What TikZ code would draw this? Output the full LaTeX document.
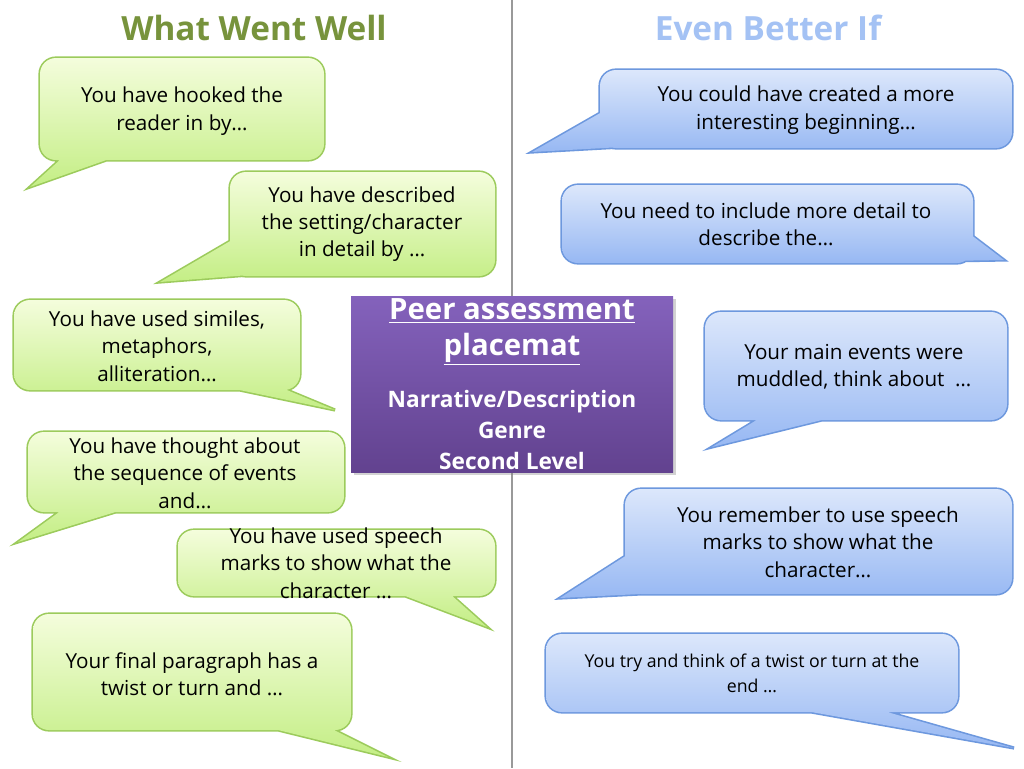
\documentclass[tikz,border=0pt]{standalone}
\usepackage{fontspec}
\setmainfont{Open Sans}
\usetikzlibrary{shadows}
\definecolor{gtop}{HTML}{F4FDDC}\definecolor{gbot}{HTML}{C4EE85}\definecolor{gline}{HTML}{9CCB5C}
\definecolor{btop}{HTML}{DCE7FB}\definecolor{bbot}{HTML}{97B8F3}\definecolor{bline}{HTML}{6D98DE}
\definecolor{ptop}{HTML}{8462BC}\definecolor{pbot}{HTML}{62428F}
\tikzset{txt/.style={align=center,font=\fontsize{15.5}{20.5}\selectfont,text=black}}
\newcommand\mycallout[6]{%
  \draw[#1line,line width=2.4pt,rounded corners=12pt] #2 rectangle #3 [sharp corners] #4 -- #6 -- #5 -- cycle;
  \shade[top color=#1top,bottom color=#1bot,rounded corners=12pt] #2 rectangle #3 [sharp corners] #4 -- #6 -- #5 -- cycle;}
\begin{document}
\begin{tikzpicture}[x=0.75pt,y=-0.75pt]
\useasboundingbox (0,0) rectangle (1024,768);
\fill[white] (0,0) rectangle (1024,768);
\draw[gray!80,line width=1pt] (512,0) -- (512,768);
\node[font=\bfseries\fontsize{25}{30}\selectfont,text={rgb,255:red,119;green,147;blue,60}] (h1) at (254,28) {What Went Well};
\node[font=\bfseries\fontsize{25}{30}\selectfont,text={rgb,255:red,164;green,194;blue,244}] (h2) at (768,28) {Even Better If};
% green
\mycallout{g}{(40,58)}{(324,160)}{(62,158)}{(112,158)}{(30,187)}
\node[txt] (g1) at (182,111) {You have hooked the\\reader in by…};
\mycallout{g}{(230,172)}{(495,276)}{(232,240)}{(262,274)}{(160,282)}
\node[txt] (g2) at (362,224) {You have described\\the setting/character\\in detail by …};
\mycallout{g}{(14,300)}{(300,390)}{(230,388)}{(282,388)}{(335,410)}
\node[txt] (g3) at (157,346) {You have used similes,\\metaphors,\\alliteration…};
\mycallout{g}{(28,432)}{(344,512)}{(62,510)}{(122,510)}{(18,542)}
\node[txt] (g4) at (185,473) {You have thought about\\the sequence of events\\and…};
\mycallout{g}{(178,530)}{(495,596)}{(400,594)}{(450,594)}{(487,627)}
\node[txt] (g5) at (336,563) {You have used speech\\marks to show what the\\character …};
\mycallout{g}{(33,614)}{(351,730)}{(270,728)}{(330,728)}{(388,757)}
\node[txt] (g6) at (192,674) {Your final paragraph has a\\twist or turn and …};
% blue
\mycallout{b}{(600,70)}{(1012,148)}{(602,112)}{(640,146)}{(532,152)}
\node[txt] (b1) at (806,110) {You could have created a more\\interesting beginning…};
\mycallout{b}{(562,185)}{(973,263)}{(942,261)}{(962,228)}{(1004,260)}
\node[txt] (b2) at (766,224) {You need to include more detail to\\describe the…};
\mycallout{b}{(705,312)}{(1007,420)}{(760,418)}{(830,418)}{(712,447)}
\node[txt] (b3) at (854,367) {Your main events were\\muddled, think about\ \ …};
\mycallout{b}{(625,489)}{(1012,594)}{(627,555)}{(680,592)}{(560,598)}
\node[txt] (b4) at (818,542) {You remember to use speech\\marks to show what the\\character…};
\mycallout{b}{(546,634)}{(958,712)}{(800,710)}{(880,710)}{(1014,748)}
\node[txt,font=\fontsize{13.3}{19}\selectfont] (b5) at (752,673) {You try and think of a twist or turn at the\\end …};
% centre
\shade[top color=ptop,bottom color=pbot,drop shadow={opacity=0.35,shadow xshift=2pt,shadow yshift=-2pt}] (351,296) rectangle (673,472);
\node[align=center,text=white,font=\bfseries\fontsize{22}{27}\selectfont] (t) at (512,332) {\underline{Peer assessment}\\\underline{placemat}};
\node[align=center,text=white,font=\bfseries\fontsize{17}{23}\selectfont] (s) at (512,430) {Narrative/Description\\Genre\\Second Level};
\end{tikzpicture}
\end{document}
